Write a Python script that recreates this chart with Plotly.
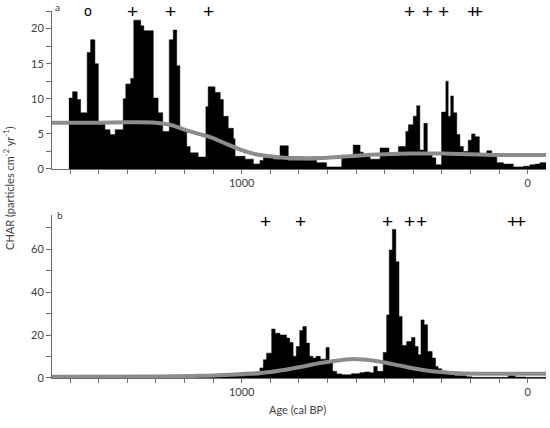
import plotly.graph_objects as go

# ---------------- Panel a ----------------
# older edge of each bin (cal BP) and CHAR value
a_age = [1604, 1591, 1575, 1563, 1540, 1528, 1513, 1501, 1478, 1460, 1442, 1414,
         1405, 1388, 1377, 1353, 1342, 1309, 1292, 1276, 1253, 1239, 1227, 1216,
         1192, 1180, 1152, 1125, 1117, 1093, 1075, 1064, 1047, 1029, 1023, 988,
         959, 936, 924, 890, 866, 837, 738, 703, 650, 610, 586, 575, 551, 516,
         485, 452, 426, 417, 400, 388, 377, 363, 351, 334, 321, 301, 286, 278,
         269, 260, 248, 237, 225, 208, 196, 184, 169, 143, 126, 108, 85, 50, 15,
         -8, -26, -43]
a_char = [10.1, 11.0, 9.9, 8.0, 16.6, 18.4, 15.0, 6.5, 5.6, 4.9, 5.6, 10.0,
          12.1, 12.9, 21.2, 20.4, 19.7, 10.1, 8.0, 5.35, 18.4, 19.8, 14.7, 5.6,
          3.2, 2.3, 1.7, 8.85, 11.7, 10.9, 9.9, 7.5, 5.8, 4.3, 1.8, 1.4,
          0.7, 1.2, 1.6, 1.4, 3.3, 1.2, 0.9, 0.3, 1.9, 3.4, 2.4, 1.8, 1.4, 3.0,
          1.9, 3.2, 5.35, 6.3, 7.5, 9.0, 2.7, 6.5, 2.0, 1.6, 0.6, 8.1, 12.5, 7.5,
          10.4, 8.0, 4.9, 3.2, 2.5, 4.1, 5.0, 4.6, 1.9, 2.6, 2.0, 0.9, 0.7, 0.3, 0.4,
          0.6, 0.7, 0.9]
a_end = -64
a_bg_age = [1663, 1500, 1400, 1300, 1250, 1200, 1150, 1100, 1050, 1000, 950, 900,
            850, 800, 700, 600, 500, 400, 300, 200, 100, 0, -64]
a_bg = [6.6, 6.6, 6.65, 6.6, 6.3, 5.6, 5.0, 4.4, 3.5, 2.7, 2.1, 1.8,
        1.6, 1.55, 1.6, 1.9, 2.1, 2.2, 2.2, 2.1, 2.0, 2.0, 2.0]
a_plus = [1381, 1247, 1117, 414, 351, 293, 194, 175]
a_circle = [1536]

# ---------------- Panel b ----------------
b_age = [1663, 1300, 1150, 1050, 990, 936, 924, 913, 895, 883, 866, 843, 832,
         820, 809, 797, 786, 774, 763, 751, 740, 725, 705, 694, 682, 668, 650,
         616, 587, 570, 552, 538, 526, 505, 493, 484, 473, 461, 450, 439, 423,
         406, 394, 383, 373, 362, 350, 334, 322, 313, 301, 255, 214, 196, 68,
         44, 9]
b_char = [0.2, 0.3, 0.5, 0.8, 1.2, 4.7, 8.5, 11.6, 22.8, 20.9, 20.1, 18.6, 16.6,
          10.1, 14.7, 22.1, 24.0, 16.3, 10.1, 9.3, 10.1, 8.8, 14.2, 7.0, 3.1, 1.9, 1.5,
          2.0, 2.5, 2.8, 2.5, 5.4, 3.1, 11.9, 29.4, 59.7, 69.3, 54.2, 28.7, 15.2, 17.0,
          18.9, 14.7, 10.8, 27.1, 24.8, 12.4, 9.3, 5.4, 4.3, 1.9, 1.1, 0.6, 0.3, 1.2,
          0.5, 0.3]
b_end = -64
b_bg_age = [1663, 1320, 1145, 1000, 900, 800, 725, 655, 600, 550, 500, 447,
            377, 307, 237, 167, 0, -64]
b_bg = [0.6, 0.7, 1.0, 1.9, 2.8, 5.0, 7.0, 8.3, 8.8, 8.3, 7.2, 5.8,
        4.0, 2.8, 2.2, 2.0, 2.0, 2.0]
b_plus = [918, 796, 491, 412, 371, 53, 25]

x_ticks = list(range(1600, -1, -100))
x_text = [str(v) if v in (1000, 0) else "" for v in x_ticks]
a_yticks = [i * 2.5 for i in range(10)]
a_ytext = [str(int(v)) if v % 5 == 0 else "" for v in a_yticks]
b_yticks = list(range(0, 71, 10))
b_ytext = [str(v) if v % 20 == 0 else "" for v in b_yticks]

FONT = "Lato"
AX = "#6b6b6b"
TXT = "#404040"


def step(ages, vals, end):
    return ages + [end], vals + [vals[-1]]


fig = go.Figure()
ax, ay = step(a_age, a_char, a_end)
fig.add_trace(go.Scatter(x=ax, y=ay, mode="lines", line=dict(shape="hv", color="black", width=0.5),
                         fill="tozeroy", fillcolor="black", xaxis="x", yaxis="y", hoverinfo="skip"))
fig.add_trace(go.Scatter(x=a_bg_age, y=a_bg, mode="lines", line=dict(shape="spline", color="#8c8c8c", width=4),
                         xaxis="x", yaxis="y", hoverinfo="skip"))
bx, by = step(b_age, b_char, b_end)
fig.add_trace(go.Scatter(x=bx, y=by, mode="lines", line=dict(shape="hv", color="black", width=0.5),
                         fill="tozeroy", fillcolor="black", xaxis="x2", yaxis="y2", hoverinfo="skip"))
fig.add_trace(go.Scatter(x=b_bg_age, y=b_bg, mode="lines", line=dict(shape="spline", color="#8c8c8c", width=4),
                         xaxis="x2", yaxis="y2", hoverinfo="skip"))

xcommon = dict(range=[1663, -64], showline=True, linecolor=AX, linewidth=1, ticks="outside",
               ticklen=4, tickcolor=AX, tickvals=x_ticks, ticktext=x_text, showgrid=False,
               zeroline=False, tickfont=dict(family=FONT, size=11, color=TXT))
ycommon = dict(showline=True, linecolor=AX, linewidth=1, ticks="outside", ticklen=5,
               tickcolor=AX, showgrid=False, zeroline=False,
               tickfont=dict(family=FONT, size=11, color=TXT))

annotations = []
for a in a_plus:
    annotations.append(dict(x=a, y=22.5, xref="x", yref="y", text="+", showarrow=False,
                            font=dict(family="Liberation Sans", size=19, color="black"), yanchor="middle"))
for a in a_circle:
    annotations.append(dict(x=a, y=22.5, xref="x", yref="y", text="o", showarrow=False,
                            font=dict(family="Liberation Sans", size=14, color="black"), yanchor="middle"))
for a in b_plus:
    annotations.append(dict(x=a, y=72.8, xref="x2", yref="y2", text="+", showarrow=False,
                            font=dict(family="Liberation Sans", size=19, color="black"), yanchor="middle"))
annotations += [
    dict(x=0.012, y=1.01, xref="paper", yref="paper", text="a", showarrow=False,
         font=dict(family=FONT, size=10, color=TXT), xanchor="center", yanchor="middle"),
    dict(x=0.017, y=0.444, xref="paper", yref="paper", text="b", showarrow=False,
         font=dict(family=FONT, size=10, color=TXT), xanchor="center", yanchor="middle"),
    dict(x=-0.087, y=0.518, xref="paper", yref="paper", textangle=-90,
         text="CHAR (particles cm<sup>-2</sup> yr<sup>-1</sup>)", showarrow=False,
         font=dict(family=FONT, size=11, color=TXT), xanchor="center", yanchor="middle"),
    dict(x=0.497, y=-0.0845, xref="paper", yref="paper", text="Age (cal BP)", showarrow=False,
         font=dict(family=FONT, size=11, color=TXT), xanchor="center", yanchor="middle"),
]

fig.update_layout(
    width=550, height=428,
    margin=dict(l=52, r=4, t=11, b=50, autoexpand=False),
    paper_bgcolor="white", plot_bgcolor="white",
    showlegend=False,
    hovermode=False,
    xaxis=dict(domain=[0, 1], anchor="y", **xcommon),
    yaxis=dict(domain=[0.5695, 1], anchor="x", range=[0, 22.5], tickvals=a_yticks, ticktext=a_ytext, **ycommon),
    xaxis2=dict(domain=[0, 1], anchor="y2", **xcommon),
    yaxis2=dict(domain=[0, 0.4441], anchor="x2", range=[0, 76], tickvals=b_yticks, ticktext=b_ytext, **ycommon),
    annotations=annotations,
)

# remove the page's default body margin so the figure fills the window exactly
fig.write_html("out.html", config={"displayModeBar": False},
               post_script="document.body.style.margin='0';document.body.style.overflow='hidden';")
